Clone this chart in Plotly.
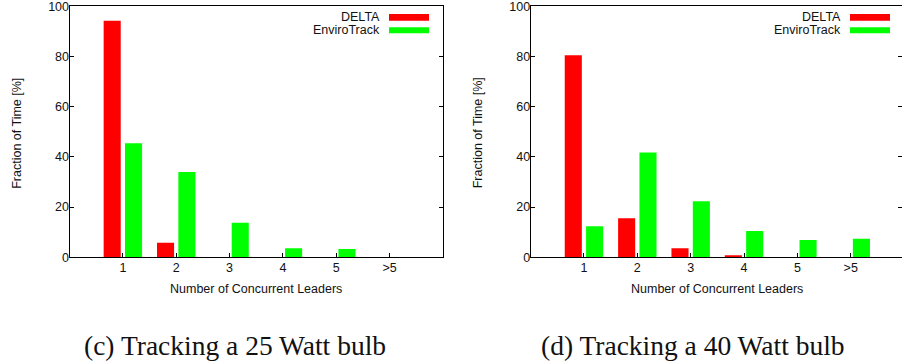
import plotly.graph_objects as go

categories = ["1", "2", "3", "4", "5", ">5"]
delta_25 = [94.3, 5.8, 0, 0, 0, 0]
envirotrack_25 = [45.4, 34.0, 13.7, 3.6, 3.3, 0]
delta_40 = [80.5, 15.5, 3.6, 0.8, 0, 0]
envirotrack_40 = [12.3, 41.7, 22.3, 10.4, 6.8, 7.3]
series_names = ["DELTA", "EnviroTrack"]
y_ticks = [0, 20, 40, 60, 80, 100]
x_title = "Number of Concurrent Leaders"
y_title = "Fraction of Time [%]"
captions = ["(c) Tracking a 25 Watt bulb", "(d) Tracking a 40 Watt bulb"]

W, H = 902, 362
RED = "#ff0000"
GREEN = "#00ff00"
SANS = "Liberation Sans, Arial, Helvetica, sans-serif"
SERIF = "Liberation Serif, Times New Roman, serif"
FS = 12.5


def px(x):
    return x / W


def py(y):
    return 1 - y / H


fig = go.Figure()
for (d, e, xa, ya) in [(delta_25, envirotrack_25, "x", "y"), (delta_40, envirotrack_40, "x2", "y2")]:
    fig.add_trace(go.Bar(x=categories, y=d, name=series_names[0], marker=dict(color=RED, line=dict(width=0)),
                         xaxis=xa, yaxis=ya, showlegend=False, hoverinfo="skip"))
    fig.add_trace(go.Bar(x=categories, y=e, name=series_names[1], marker=dict(color=GREEN, line=dict(width=0)),
                         xaxis=xa, yaxis=ya, showlegend=False, hoverinfo="skip"))

plot_top, plot_bot = 6.3, 257.3
left_l, left_r = 69.5, 443.0
right_l = 530.6
unit = (left_r - left_l) / 7.0
right_range_max = (W - right_l) / unit - 1

common_x = dict(type="category", showline=True, linecolor="black", linewidth=1, mirror=True,
                ticks="inside", ticklen=4, tickcolor="black", showgrid=False, zeroline=False,
                automargin=False, ticklabeloverflow="allow",
                tickfont=dict(family=SANS, size=FS, color="#111"), ticklabelstandoff=-1)
common_y = dict(range=[-0.05, 100.05], tickvals=y_ticks, showline=True, linecolor="black", linewidth=1,
                mirror="ticks", ticks="inside", ticklen=4, tickcolor="black", showgrid=False,
                zeroline=False, automargin=False, ticklabeloverflow="allow",
                tickfont=dict(family=SANS, size=FS, color="#111"), ticklabelstandoff=-3)

fig.update_layout(
    width=W, height=H, margin=dict(l=0, r=0, t=0, b=0, autoexpand=False),
    paper_bgcolor="white", plot_bgcolor="white",
    barmode="group", bargap=0.2, bargroupgap=0.2,
    xaxis=dict(domain=[px(left_l), px(left_r)], range=[-1, 6], anchor="y", **common_x),
    yaxis=dict(domain=[py(plot_bot), py(plot_top)], anchor="x", **common_y),
    xaxis2=dict(domain=[px(right_l), 1.0], range=[-1, right_range_max], anchor="y2", **common_x),
    yaxis2=dict(domain=[py(plot_bot), py(plot_top)], anchor="x2", **common_y),
)

annotations = []
shapes = []
for (xt_center, yt_x, legend_text_right, legend_rect_l, cap_x, cap) in [
    (256, 17.5, 381.5, 389, 235, captions[0]),
    (717.3, 478, 842.5, 850, 693, captions[1]),
]:
    annotations.append(dict(text=x_title, x=px(xt_center), y=py(288.5), xref="paper", yref="paper",
                            xanchor="center", yanchor="middle", showarrow=False,
                            font=dict(family=SANS, size=FS, color="#111")))
    annotations.append(dict(text=y_title, x=px(yt_x), y=py(133.3), xref="paper", yref="paper",
                            xanchor="center", yanchor="middle", showarrow=False, textangle=-90,
                            font=dict(family=SANS, size=FS, color="#111")))
    for name, color, yc, (r0, r1) in [(series_names[0], RED, 17.3, (14, 20.7)),
                                      (series_names[1], GREEN, 30.3, (27.3, 33.3))]:
        annotations.append(dict(text=name, x=px(legend_text_right), y=py(yc), xref="paper", yref="paper",
                                xanchor="right", yanchor="middle", showarrow=False,
                                font=dict(family=SANS, size=FS, color="#111")))
        shapes.append(dict(type="rect", xref="paper", yref="paper", x0=px(legend_rect_l),
                           x1=px(legend_rect_l + 40), y0=py(r1), y1=py(r0), fillcolor=color,
                           line=dict(width=0)))
    annotations.append(dict(text=cap, x=px(cap_x), y=py(345), xref="paper", yref="paper",
                            xanchor="center", yanchor="middle", showarrow=False,
                            font=dict(family=SERIF, size=27.5, color="#111")))

fig.update_layout(annotations=annotations, shapes=shapes)
fig.write_html("out.html",
               config={"displayModeBar": False, "staticPlot": True},
               post_script="document.body.style.margin='0';document.body.style.overflow='hidden';")
